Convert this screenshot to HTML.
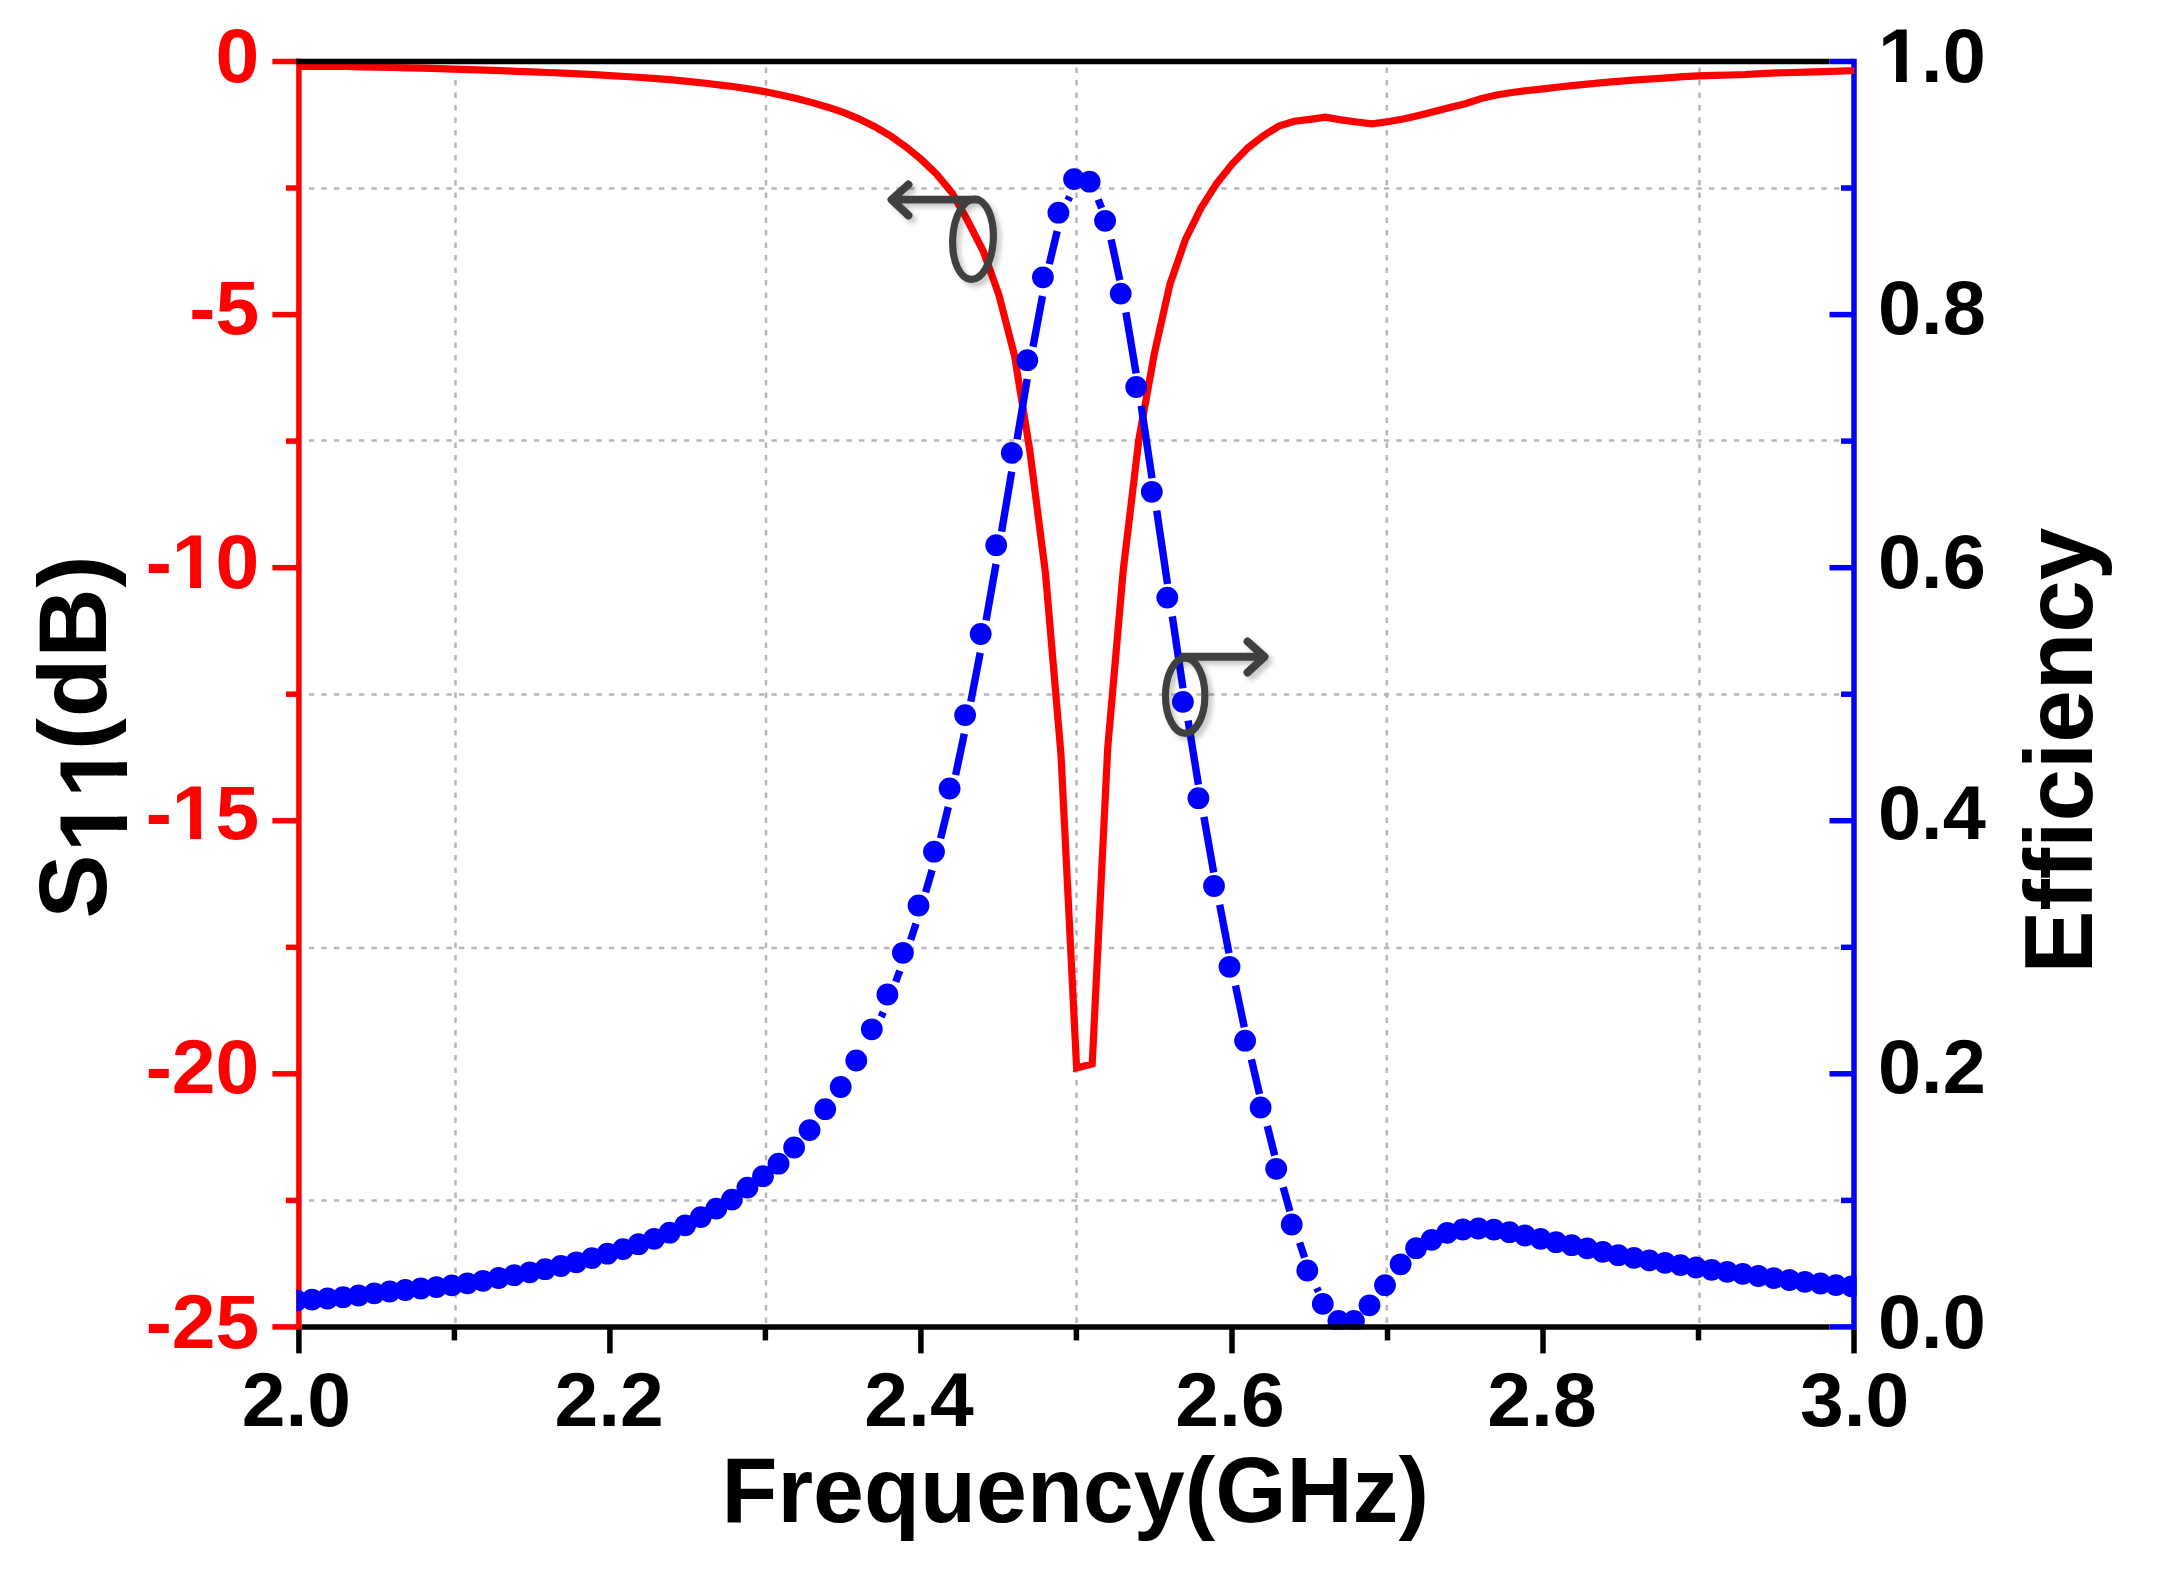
<!DOCTYPE html>
<html lang="en"><head><meta charset="utf-8"><title>S11 and Efficiency vs Frequency</title>
<style>html,body{margin:0;padding:0;background:#fff;overflow:hidden}svg{display:block}</style>
</head><body>
<svg width="2160" height="1580" viewBox="0 0 2160 1580">
<defs>
<clipPath id="plot"><rect x="296.4" y="58.8" width="1560.3" height="1270.9"/></clipPath>
<filter id="sh" x="-30%" y="-30%" width="170%" height="170%"><feGaussianBlur in="SourceAlpha" stdDeviation="2.6" result="b"/><feOffset in="b" dx="4" dy="4" result="o"/><feComponentTransfer in="o" result="s"><feFuncA type="linear" slope="0.22"/></feComponentTransfer><feMerge><feMergeNode in="s"/><feMergeNode in="SourceGraphic"/></feMerge></filter>
</defs>
<rect width="2160" height="1580" fill="#fff"/>
<g stroke="#b7b7b7" stroke-width="2.5" stroke-dasharray="5.4 7.1" fill="none">
<line x1="455.5" y1="67.5" x2="455.5" y2="1323.9"/>
<line x1="766.0" y1="67.5" x2="766.0" y2="1323.9"/>
<line x1="1076.5" y1="67.5" x2="1076.5" y2="1323.9"/>
<line x1="1386.8" y1="67.5" x2="1386.8" y2="1323.9"/>
<line x1="1699.5" y1="67.5" x2="1699.5" y2="1323.9"/>
<line x1="308.9" y1="188.5" x2="1840.0" y2="188.5"/>
<line x1="308.9" y1="440.6" x2="1840.0" y2="440.6"/>
<line x1="308.9" y1="694.4" x2="1840.0" y2="694.4"/>
<line x1="308.9" y1="948.0" x2="1840.0" y2="948.0"/>
<line x1="308.9" y1="1200.4" x2="1840.0" y2="1200.4"/>
</g>
<g stroke-width="5.5" fill="none" stroke-linecap="butt">
<line x1="298.9" y1="58.8" x2="298.9" y2="1329.7" stroke="#f00"/>
<line x1="272.4" y1="61.5" x2="298.9" y2="61.5" stroke="#f00"/>
<line x1="285.9" y1="188.0" x2="298.9" y2="188.0" stroke="#f00"/>
<line x1="272.4" y1="314.6" x2="298.9" y2="314.6" stroke="#f00"/>
<line x1="285.9" y1="441.1" x2="298.9" y2="441.1" stroke="#f00"/>
<line x1="272.4" y1="567.7" x2="298.9" y2="567.7" stroke="#f00"/>
<line x1="285.9" y1="694.2" x2="298.9" y2="694.2" stroke="#f00"/>
<line x1="272.4" y1="820.7" x2="298.9" y2="820.7" stroke="#f00"/>
<line x1="285.9" y1="947.3" x2="298.9" y2="947.3" stroke="#f00"/>
<line x1="272.4" y1="1073.8" x2="298.9" y2="1073.8" stroke="#f00"/>
<line x1="285.9" y1="1200.4" x2="298.9" y2="1200.4" stroke="#f00"/>
<line x1="272.4" y1="1326.9" x2="298.9" y2="1326.9" stroke="#f00"/>
<line x1="1854.0" y1="58.8" x2="1854.0" y2="1329.7" stroke="#00f"/>
<line x1="1829.5" y1="61.5" x2="1854.0" y2="61.5" stroke="#00f"/>
<line x1="1841.0" y1="188.0" x2="1854.0" y2="188.0" stroke="#00f"/>
<line x1="1829.5" y1="314.6" x2="1854.0" y2="314.6" stroke="#00f"/>
<line x1="1841.0" y1="441.1" x2="1854.0" y2="441.1" stroke="#00f"/>
<line x1="1829.5" y1="567.7" x2="1854.0" y2="567.7" stroke="#00f"/>
<line x1="1841.0" y1="694.2" x2="1854.0" y2="694.2" stroke="#00f"/>
<line x1="1829.5" y1="820.7" x2="1854.0" y2="820.7" stroke="#00f"/>
<line x1="1841.0" y1="947.3" x2="1854.0" y2="947.3" stroke="#00f"/>
<line x1="1829.5" y1="1073.8" x2="1854.0" y2="1073.8" stroke="#00f"/>
<line x1="1841.0" y1="1200.4" x2="1854.0" y2="1200.4" stroke="#00f"/>
<line x1="1829.5" y1="1326.9" x2="1854.0" y2="1326.9" stroke="#00f"/>
</g>
<g clip-path="url(#plot)">
<polyline points="299.0,66.3 314.6,66.3 330.1,66.4 345.7,66.5 361.2,66.8 376.8,67.1 392.3,67.5 407.9,67.8 423.4,68.2 439.0,68.6 454.5,69.1 470.1,69.6 485.6,70.1 501.2,70.7 516.7,71.3 532.3,71.8 547.8,72.5 563.4,73.1 578.9,73.9 594.5,74.7 610.0,75.6 625.6,76.5 641.1,77.5 656.7,78.6 672.2,79.9 687.8,81.4 703.4,83.0 718.9,84.9 734.5,86.8 750.0,89.1 765.6,91.8 781.1,95.0 796.7,98.6 812.2,102.6 827.8,107.2 843.3,112.4 858.9,118.8 874.4,126.5 890.0,135.6 905.5,146.5 921.1,159.3 936.6,174.2 952.2,193.0 967.7,220.8 983.3,251.3 998.8,294.5 1014.4,355.0 1029.9,451.0 1045.5,573.5 1061.0,754.7 1076.6,1068.0 1092.2,1064.0 1107.7,748.2 1123.3,569.6 1138.8,439.9 1154.4,353.3 1169.9,284.3 1185.5,239.3 1201.0,208.0 1216.6,183.6 1232.1,164.1 1247.7,147.9 1263.2,135.9 1278.8,126.1 1294.3,121.3 1309.9,119.4 1325.4,117.2 1341.0,119.9 1356.5,122.0 1372.1,123.9 1387.6,121.7 1403.2,119.0 1418.7,115.5 1434.3,111.5 1449.8,107.4 1465.4,103.7 1481.0,98.6 1496.5,95.0 1512.1,92.5 1527.6,90.5 1543.2,88.8 1558.7,87.0 1574.3,85.3 1589.8,83.8 1605.4,82.4 1620.9,81.1 1636.5,79.9 1652.0,78.9 1667.6,77.8 1683.1,76.6 1698.7,75.8 1714.2,75.4 1729.8,75.0 1745.3,74.5 1760.9,73.6 1776.4,72.9 1792.0,72.5 1807.5,72.2 1823.1,71.7 1838.6,71.1 1854.2,70.5" fill="none" stroke="#f00" stroke-width="7.2" stroke-linejoin="miter" stroke-miterlimit="2"/>
<path d="M881.1 1016.9L883.3 1012.1M895.7 981.7L899.8 970.8M910.7 939.8L916.0 923.7M925.6 892.3L932.1 870.1M940.6 838.4L948.3 807.0M955.6 775.1L964.3 733.7M970.8 701.6L980.2 652.7M986.1 620.4L996.0 564.0M1001.6 531.6L1011.7 471.7M1017.1 439.3L1027.2 379.0M1033.0 346.7L1042.5 296.0M1049.3 264.0L1057.2 231.2M1067.9 200.4L1069.7 196.6M1098.2 199.5L1101.6 208.2M1111.1 239.4L1119.8 280.2M1125.9 312.4L1136.1 373.4M1141.2 405.8L1152.0 478.2M1156.7 510.6L1167.5 584.0M1172.3 616.4L1183.0 688.3M1188.1 720.7L1198.4 784.6M1203.9 816.9L1213.7 872.5M1219.7 904.7L1229.0 953.3M1235.5 985.4L1244.3 1027.3M1251.4 1059.3L1259.5 1094.1M1267.3 1126.0L1274.7 1155.5M1283.2 1187.2L1289.9 1211.3M1299.6 1242.6L1304.6 1257.6M1316.8 1288.0L1318.5 1291.6" fill="none" stroke="#00f" stroke-width="7.4"/>
<g fill="#00f">
<circle cx="296.4" cy="1300.5" r="10.9"/>
<circle cx="312.0" cy="1299.6" r="10.9"/>
<circle cx="327.5" cy="1298.5" r="10.9"/>
<circle cx="343.1" cy="1297.2" r="10.9"/>
<circle cx="358.6" cy="1295.5" r="10.9"/>
<circle cx="374.2" cy="1293.4" r="10.9"/>
<circle cx="389.7" cy="1291.5" r="10.9"/>
<circle cx="405.3" cy="1290.0" r="10.9"/>
<circle cx="420.8" cy="1288.5" r="10.9"/>
<circle cx="436.4" cy="1287.1" r="10.9"/>
<circle cx="451.9" cy="1285.4" r="10.9"/>
<circle cx="467.5" cy="1283.3" r="10.9"/>
<circle cx="483.0" cy="1280.8" r="10.9"/>
<circle cx="498.6" cy="1278.0" r="10.9"/>
<circle cx="514.1" cy="1275.2" r="10.9"/>
<circle cx="529.7" cy="1272.3" r="10.9"/>
<circle cx="545.2" cy="1269.2" r="10.9"/>
<circle cx="560.8" cy="1266.0" r="10.9"/>
<circle cx="576.3" cy="1262.3" r="10.9"/>
<circle cx="591.9" cy="1258.1" r="10.9"/>
<circle cx="607.4" cy="1253.7" r="10.9"/>
<circle cx="623.0" cy="1249.1" r="10.9"/>
<circle cx="638.5" cy="1244.2" r="10.9"/>
<circle cx="654.1" cy="1238.8" r="10.9"/>
<circle cx="669.6" cy="1232.7" r="10.9"/>
<circle cx="685.2" cy="1225.3" r="10.9"/>
<circle cx="700.8" cy="1217.1" r="10.9"/>
<circle cx="716.3" cy="1208.6" r="10.9"/>
<circle cx="731.9" cy="1199.6" r="10.9"/>
<circle cx="747.4" cy="1187.6" r="10.9"/>
<circle cx="763.0" cy="1176.2" r="10.9"/>
<circle cx="778.5" cy="1163.7" r="10.9"/>
<circle cx="794.1" cy="1147.5" r="10.9"/>
<circle cx="809.6" cy="1130.1" r="10.9"/>
<circle cx="825.2" cy="1109.2" r="10.9"/>
<circle cx="840.7" cy="1087.0" r="10.9"/>
<circle cx="856.3" cy="1060.5" r="10.9"/>
<circle cx="871.8" cy="1029.3" r="10.9"/>
<circle cx="887.4" cy="994.5" r="10.9"/>
<circle cx="902.9" cy="952.8" r="10.9"/>
<circle cx="918.5" cy="905.5" r="10.9"/>
<circle cx="934.0" cy="851.7" r="10.9"/>
<circle cx="949.6" cy="788.5" r="10.9"/>
<circle cx="965.1" cy="715.1" r="10.9"/>
<circle cx="980.7" cy="634.0" r="10.9"/>
<circle cx="996.2" cy="545.2" r="10.9"/>
<circle cx="1011.8" cy="452.9" r="10.9"/>
<circle cx="1027.3" cy="360.2" r="10.9"/>
<circle cx="1042.9" cy="277.3" r="10.9"/>
<circle cx="1058.4" cy="212.7" r="10.9"/>
<circle cx="1074.0" cy="179.1" r="10.9"/>
<circle cx="1089.6" cy="181.7" r="10.9"/>
<circle cx="1105.1" cy="220.8" r="10.9"/>
<circle cx="1120.7" cy="293.6" r="10.9"/>
<circle cx="1136.2" cy="387.0" r="10.9"/>
<circle cx="1151.8" cy="491.8" r="10.9"/>
<circle cx="1167.3" cy="597.6" r="10.9"/>
<circle cx="1182.9" cy="701.9" r="10.9"/>
<circle cx="1198.4" cy="798.2" r="10.9"/>
<circle cx="1214.0" cy="886.0" r="10.9"/>
<circle cx="1229.5" cy="966.8" r="10.9"/>
<circle cx="1245.1" cy="1040.7" r="10.9"/>
<circle cx="1260.6" cy="1107.5" r="10.9"/>
<circle cx="1276.2" cy="1168.8" r="10.9"/>
<circle cx="1291.7" cy="1224.5" r="10.9"/>
<circle cx="1307.3" cy="1270.5" r="10.9"/>
<circle cx="1322.8" cy="1303.9" r="10.9"/>
<circle cx="1338.4" cy="1321.0" r="10.9"/>
<circle cx="1353.9" cy="1321.0" r="10.9"/>
<circle cx="1369.5" cy="1305.3" r="10.9"/>
<circle cx="1385.0" cy="1285.2" r="10.9"/>
<circle cx="1400.6" cy="1264.3" r="10.9"/>
<circle cx="1416.1" cy="1248.2" r="10.9"/>
<circle cx="1431.7" cy="1239.8" r="10.9"/>
<circle cx="1447.2" cy="1232.9" r="10.9"/>
<circle cx="1462.8" cy="1229.5" r="10.9"/>
<circle cx="1478.4" cy="1228.5" r="10.9"/>
<circle cx="1493.9" cy="1229.6" r="10.9"/>
<circle cx="1509.5" cy="1232.2" r="10.9"/>
<circle cx="1525.0" cy="1235.5" r="10.9"/>
<circle cx="1540.6" cy="1238.9" r="10.9"/>
<circle cx="1556.1" cy="1242.2" r="10.9"/>
<circle cx="1571.7" cy="1245.2" r="10.9"/>
<circle cx="1587.2" cy="1248.4" r="10.9"/>
<circle cx="1602.8" cy="1251.9" r="10.9"/>
<circle cx="1618.3" cy="1255.2" r="10.9"/>
<circle cx="1633.9" cy="1257.9" r="10.9"/>
<circle cx="1649.4" cy="1260.4" r="10.9"/>
<circle cx="1665.0" cy="1262.8" r="10.9"/>
<circle cx="1680.5" cy="1265.1" r="10.9"/>
<circle cx="1696.1" cy="1267.5" r="10.9"/>
<circle cx="1711.6" cy="1269.8" r="10.9"/>
<circle cx="1727.2" cy="1271.9" r="10.9"/>
<circle cx="1742.7" cy="1273.9" r="10.9"/>
<circle cx="1758.3" cy="1276.0" r="10.9"/>
<circle cx="1773.8" cy="1278.1" r="10.9"/>
<circle cx="1789.4" cy="1280.0" r="10.9"/>
<circle cx="1804.9" cy="1281.8" r="10.9"/>
<circle cx="1820.5" cy="1283.5" r="10.9"/>
<circle cx="1836.0" cy="1285.1" r="10.9"/>
<circle cx="1851.6" cy="1286.4" r="10.9"/>
</g></g>
<g stroke-width="5.5" fill="none" stroke="#000" stroke-linecap="butt">
<line x1="296.1" y1="61.5" x2="1829.5" y2="61.5"/>
<line x1="301.6" y1="1326.9" x2="1829.5" y2="1326.9"/>
<line x1="298.9" y1="1329.5" x2="298.9" y2="1353.4"/>
<line x1="454.4" y1="1326.9" x2="454.4" y2="1340.4"/>
<line x1="609.9" y1="1326.9" x2="609.9" y2="1353.4"/>
<line x1="765.4" y1="1326.9" x2="765.4" y2="1340.4"/>
<line x1="920.9" y1="1326.9" x2="920.9" y2="1353.4"/>
<line x1="1076.4" y1="1326.9" x2="1076.4" y2="1340.4"/>
<line x1="1232.0" y1="1326.9" x2="1232.0" y2="1353.4"/>
<line x1="1387.5" y1="1326.9" x2="1387.5" y2="1340.4"/>
<line x1="1543.0" y1="1326.9" x2="1543.0" y2="1353.4"/>
<line x1="1698.5" y1="1326.9" x2="1698.5" y2="1340.4"/>
<line x1="1854.0" y1="1329.5" x2="1854.0" y2="1353.4"/>
</g>
<g fill="none" stroke="#404040" stroke-linecap="round" stroke-linejoin="round" filter="url(#sh)">
<ellipse cx="973" cy="239.2" rx="20.3" ry="40.2" stroke-width="7.2" transform="rotate(3 973 239.2)"/>
<path d="M977 199.6 H892.5 M908.5 184.5 L891.5 199.6 L908.5 215.5" stroke-width="7.9"/>
<ellipse cx="1185.2" cy="695.7" rx="19.7" ry="37.6" stroke-width="7.2"/>
<path d="M1183 656.8 H1263 M1247.5 641.5 L1264.5 656.8 L1247.5 672.5" stroke-width="7.9"/>
</g>
<g font-family="'Liberation Sans', Arial, Helvetica, sans-serif" font-weight="bold" style="font-kerning:none">
<g transform="translate(259.3 82.4) scale(1.035 1)"><text text-anchor="end" font-size="76" fill="#f00">0</text></g>
<g transform="translate(259.3 333.7) scale(1.035 1)"><text text-anchor="end" font-size="76" fill="#f00">-5</text></g>
<g transform="translate(259.3 588.0) scale(1.035 1)"><text text-anchor="end" font-size="76" fill="#f00">-10</text><rect x="-81.38" y="-9.09" width="14.53" height="10.29" fill="#fff"/><rect x="-56.31" y="-9.09" width="13.53" height="10.29" fill="#fff"/></g>
<g transform="translate(259.3 839.1) scale(1.035 1)"><text text-anchor="end" font-size="76" fill="#f00">-15</text><rect x="-81.38" y="-9.09" width="14.53" height="10.29" fill="#fff"/><rect x="-56.31" y="-9.09" width="13.53" height="10.29" fill="#fff"/></g>
<g transform="translate(259.3 1093.1) scale(1.035 1)"><text text-anchor="end" font-size="76" fill="#f00">-20</text></g>
<g transform="translate(259.3 1347.8) scale(1.035 1)"><text text-anchor="end" font-size="76" fill="#f00">-25</text></g>
<g transform="translate(1878.0 82.4) scale(1.02 1)"><text text-anchor="start" font-size="76" fill="#000">1.0</text><rect x="3.15" y="-9.09" width="14.53" height="10.29" fill="#fff"/><rect x="28.22" y="-9.09" width="13.53" height="10.29" fill="#fff"/></g>
<g transform="translate(1878.0 333.7) scale(1.02 1)"><text text-anchor="start" font-size="76" fill="#000">0.8</text></g>
<g transform="translate(1878.0 588.0) scale(1.02 1)"><text text-anchor="start" font-size="76" fill="#000">0.6</text></g>
<g transform="translate(1878.0 839.1) scale(1.02 1)"><text text-anchor="start" font-size="76" fill="#000">0.4</text></g>
<g transform="translate(1878.0 1093.1) scale(1.02 1)"><text text-anchor="start" font-size="76" fill="#000">0.2</text></g>
<g transform="translate(1878.0 1347.8) scale(1.02 1)"><text text-anchor="start" font-size="76" fill="#000">0.0</text></g>
<g transform="translate(296.4 1426.2) scale(1.035 1)"><text text-anchor="middle" font-size="76" fill="#000">2.0</text></g>
<g transform="translate(609.1 1426.2) scale(1.035 1)"><text text-anchor="middle" font-size="76" fill="#000">2.2</text></g>
<g transform="translate(919.0 1426.2) scale(1.035 1)"><text text-anchor="middle" font-size="76" fill="#000">2.4</text></g>
<g transform="translate(1230.0 1426.2) scale(1.035 1)"><text text-anchor="middle" font-size="76" fill="#000">2.6</text></g>
<g transform="translate(1542.0 1426.2) scale(1.035 1)"><text text-anchor="middle" font-size="76" fill="#000">2.8</text></g>
<g transform="translate(1854.6 1426.2) scale(1.035 1)"><text text-anchor="middle" font-size="76" fill="#000">3.0</text></g>
<g transform="translate(1075.2 1522.3) scale(0.985 1)"><text text-anchor="middle" font-size="93" fill="#000">Frequency(GHz)</text></g>
<g transform="translate(105.5 918.5) rotate(-90)"><text font-size="96" fill="#000" x="0 66.3 120.6 168.4 201.3 260.8 330.9" y="0 21.5 21.5 0 0 0 0">S11(dB)</text><rect x="70.28" y="10.02" width="18.35" height="12.68" fill="#fff"/><rect x="101.95" y="10.02" width="17.09" height="12.68" fill="#fff"/><rect x="124.58" y="10.02" width="18.35" height="12.68" fill="#fff"/><rect x="156.25" y="10.02" width="17.09" height="12.68" fill="#fff"/></g>
<g transform="translate(2092.3 973.5) rotate(-90) scale(0.973 1)"><text font-size="97" fill="#000">Efficiency</text></g>
</g>
</svg>
</body></html>
